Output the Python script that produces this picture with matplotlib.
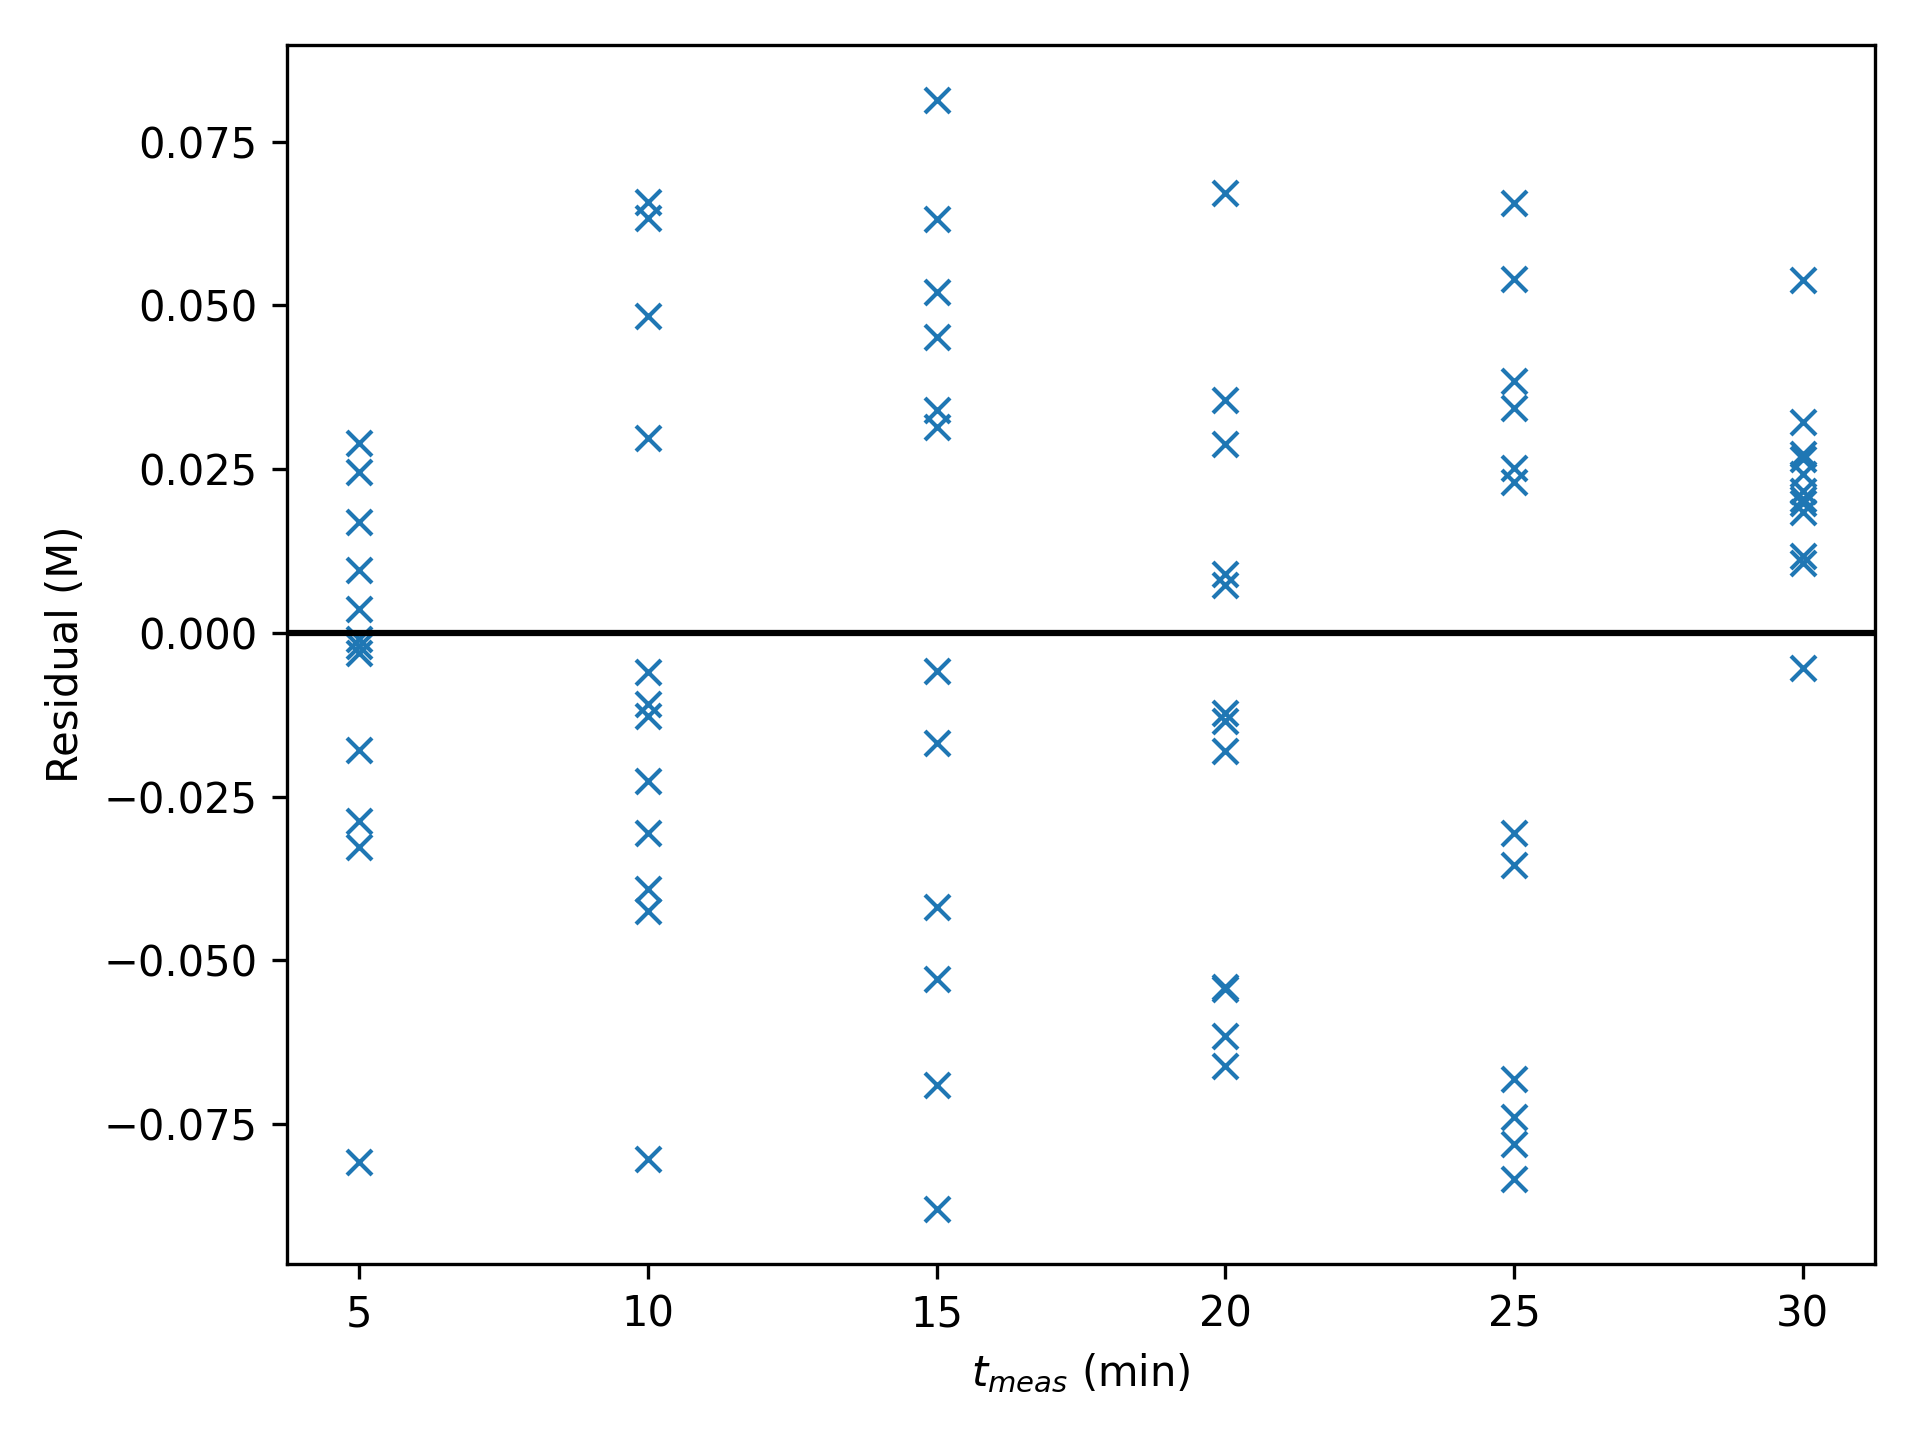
import numpy as np
import matplotlib
matplotlib.use('Agg')
import matplotlib.pyplot as plt

# measurement times (min)
t_levels = [5, 10, 15, 20, 25, 30]

# residuals (M) for each measurement time
res_5 = [0.0290, 0.0246, 0.0170, 0.0096, 0.0036, -0.0010, -0.0020, -0.0030,
         -0.0179, -0.0288, -0.0327, -0.0808]
res_10 = [0.0658, 0.0634, 0.0484, 0.0298, -0.0060, -0.0108, -0.0127, -0.0226,
          -0.0305, -0.0391, -0.0424, -0.0804]
res_15 = [0.0813, 0.0632, 0.0520, 0.0451, 0.0340, 0.0314, -0.0058, -0.0168,
          -0.0419, -0.0529, -0.0690, -0.0879]
res_20 = [0.0671, 0.0355, 0.0288, 0.0090, 0.0073, -0.0122, -0.0135, -0.0180,
          -0.0540, -0.0543, -0.0615, -0.0662]
res_25 = [0.0656, 0.0540, 0.0385, 0.0344, 0.0251, 0.0230, -0.0305, -0.0355,
          -0.0681, -0.0739, -0.0780, -0.0834]
res_30 = [0.0539, 0.0322, 0.0273, 0.0265, 0.0242, 0.0217, 0.0205, 0.0199,
          0.0184, 0.0117, 0.0107, -0.0054]

residuals = [res_5, res_10, res_15, res_20, res_25, res_30]

t_meas = np.concatenate([[t] * len(r) for t, r in zip(t_levels, residuals)])
resid = np.concatenate(residuals)

fig, ax = plt.subplots(figsize=(6.4, 4.8), dpi=300)

ax.plot(t_meas, resid, 'x')
ax.axhline(0, color='k')

ax.set_xlabel(r'$t_{meas}$ (min)')
ax.set_ylabel('Residual (M)')

plt.tight_layout()
plt.savefig('out.png', dpi=300)
